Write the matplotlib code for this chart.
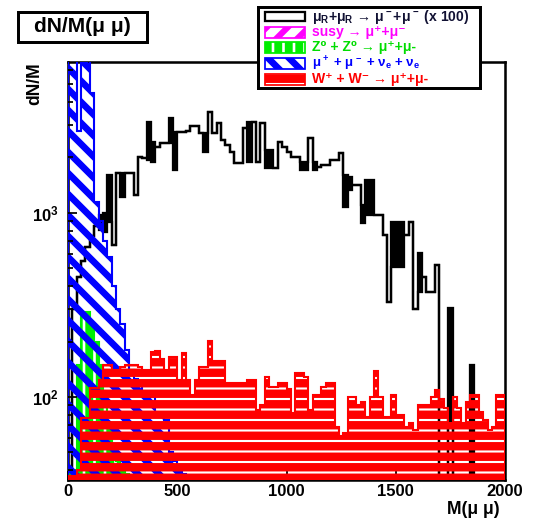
import numpy as np
import matplotlib
matplotlib.use('Agg')
import matplotlib.pyplot as plt
from matplotlib.patches import Rectangle
from matplotlib.ticker import FixedLocator, FuncFormatter, LogLocator, MultipleLocator

W, H, DPI = 539, 522, 126

plt.rcParams['font.family'] = ['Liberation Sans', 'DejaVu Sans']
plt.rcParams['font.weight'] = 'bold'
plt.rcParams['mathtext.fontset'] = 'custom'
for k in ('rm', 'it', 'bf', 'sf'):
    plt.rcParams['mathtext.' + k] = 'Liberation Sans:bold'

# 20 GeV bins from 0 to 2000
mass_edges = np.arange(0, 2001, 20)

# mu_R + mu_R -> mu mu (x 100): top / bottom of the range drawn in each bin
signal_hi = [40, 300, 450, 550, 650, 750, 850, 975, 1000, 1610,
             670, 1650, 1650, 1650, 1650, 1250, 2015, 1980, 3125, 2435,
             2285, 2400, 2400, 3280, 2760, 2760, 2755, 2800, 2970, 2970,
             2720, 2720, 3540, 2720, 3085, 2495, 2330, 2145, 1870, 1870,
             2900, 3125, 3125, 1890, 3085, 2200, 2200, 1760, 2435, 2285,
             2145, 2015, 2015, 1890, 1890, 2555, 1890, 1780, 1825, 1825,
             1940, 1940, 2120, 1610, 1570, 1420, 1420, 1105, 1510, 1510,
             975, 975, 760, 330, 893, 893, 893, 760, 893, 300,
             606, 449, 372, 372, 522, 20, 20, 305, 20, 20,
             20, 20, 149, 20, 20, 20, 20, 20, 20, 20]
signal_lo = [40, 300, 450, 550, 650, 750, 850, 808, 790, 890,
             670, 1650, 1220, 1650, 1650, 1250, 2015, 1980, 1940, 1890,
             2285, 2400, 2400, 2400, 1715, 2760, 2755, 2800, 2970, 2970,
             2720, 2145, 3540, 2720, 3085, 2495, 2330, 2145, 1870, 1870,
             2900, 1890, 3125, 1890, 3085, 1760, 1760, 1760, 2435, 2285,
             2145, 2015, 2015, 1715, 1715, 2555, 1715, 1780, 1825, 1825,
             1940, 1940, 2120, 1078, 1333, 1420, 1420, 883, 975, 975,
             975, 975, 760, 330, 509, 509, 509, 760, 893, 300,
             372, 449, 372, 372, 522, 20, 20, 70, 20, 20,
             20, 20, 20, 20, 20, 20, 20, 20, 20, 20]

# W+ W- -> mu mu
ww = [37, 37, 40, 77, 77, 112, 112, 124, 149, 149,
      140, 140, 146, 149, 149, 149, 146, 140, 140, 175,
      178, 160, 140, 165, 165, 124, 173, 124, 103, 124,
      146, 146, 201, 157, 157, 157, 119, 119, 119, 119,
      119, 124, 124, 85, 91, 128, 113, 113, 119, 119,
      110, 82, 135, 135, 128, 85, 103, 103, 113, 119,
      119, 69, 61, 64, 100, 100, 91, 94, 78, 100,
      138, 100, 78, 78, 103, 80, 80, 69, 72, 66,
      91, 91, 91, 100, 109, 98, 87, 72, 100, 87,
      72, 94, 103, 103, 83, 75, 66, 69, 103, 103]

# mu+ mu- nu nu
mumununu = [20000, 20000, 2800, 20000, 20000, 4500, 1150, 900, 700, 575,
            400, 300, 250, 180, 140, 125, 115, 105, 100, 100,
            80, 80, 75, 50, 45, 40, 38, 37] + [20] * 72

# Z0 Z0 -> mu mu
zz = [40, 40, 150, 290, 290, 250, 200, 150, 100, 70,
      55, 45, 40, 38, 36] + [20] * 85

YMIN, YMAX = 35.4, 6600

fig = plt.figure(figsize=(W / DPI, H / DPI), dpi=DPI)
ax = fig.add_axes([68 / W, 1 - 480 / H, 437 / W, 418 / H])
ax.set_yscale('log')


def hatched(vals, color, hatch, hlw, z, clamp=False, lw=1.2):
    vals = np.asarray(vals, float)
    with plt.rc_context({'hatch.linewidth': hlw}):
        ax.stairs(vals, mass_edges, baseline=1e-3, fill=True, facecolor='none',
                  edgecolor=color, hatch=hatch, linewidth=0, zorder=z)
    line = np.maximum(vals, YMIN) if clamp else vals
    ax.stairs(line, mass_edges, baseline=1e-3, color=color, lw=lw, zorder=z + 0.05)


hatched(zz, '#00ee00', '||', 4.5, 1.0)

# signal: filled where the bin fluctuates, thick step lines
ax.stairs(signal_hi, mass_edges, baseline=signal_lo, fill=True, color='black', lw=0, zorder=1.2)
ax.stairs(signal_hi, mass_edges, baseline=None, color='black', lw=1.3, zorder=1.25)
ax.stairs(signal_lo, mass_edges, baseline=None, color='black', lw=1.3, zorder=1.25)

hatched(mumununu, '#0000ff', '\\\\', 3.8, 1.4, clamp=True)
hatched(ww, '#ff0000', '--', 4.8, 1.6)

ax.set_xlim(0, 2000)
ax.set_ylim(YMIN, YMAX)
for s in ax.spines.values():
    s.set_linewidth(1.45)
    s.set_zorder(0.9)
ax.xaxis.set_zorder(0.8)
ax.yaxis.set_zorder(3)

ax.set_xticks([0, 500, 1000, 1500, 2000])
ax.xaxis.set_minor_locator(MultipleLocator(100))
ax.yaxis.set_major_locator(FixedLocator([100, 1000]))
ax.yaxis.set_minor_locator(LogLocator(base=10, subs=np.arange(2, 10)))
ax.yaxis.set_major_formatter(FuncFormatter(lambda v, p: r'$\mathbf{10^{%d}}$' % round(np.log10(v))))
ax.yaxis.set_minor_formatter(FuncFormatter(lambda v, p: ''))
ax.tick_params(axis='both', which='both', direction='in', top=False, right=False, width=1)
ax.tick_params(axis='y', which='major', length=5, pad=5.5, labelsize=9.5)
ax.tick_params(axis='y', which='minor', length=2.7)
ax.tick_params(axis='x', which='major', length=5, pad=2, labelsize=9.5)
ax.tick_params(axis='x', which='minor', length=2.7)

fig.text(35 / W, 1 - 62 / H, 'dN/M', rotation=90, ha='center', va='top', size=10)
fig.text(500 / W, 1 - 510 / H, 'M(μ μ)', ha='right', va='center', size=10)

# title box
fig.add_artist(Rectangle((18 / W, 1 - 42 / H), 129 / W, 30 / H, transform=fig.transFigure,
                         fc='white', ec='black', lw=1.7))
fig.text(82 / W, 1 - 27 / H, 'dN/M(μ μ)', ha='center', va='center', size=12)

# legend box
lg = fig.add_axes([258 / W, 1 - 88 / H, 222 / W, 81 / H])
lg.set_xlim(0, 222)
lg.set_ylim(81, 0)
lg.set_xticks([])
lg.set_yticks([])
for s in lg.spines.values():
    s.set_linewidth(1.7)

rows = [
    (9.7, 'black', None, 0, r'$\mu_R$+$\mu_R$ → $\mu^-$+$\mu^-$ (x 100)', '#111133', 8),
    (25.0, '#ff00ff', '//', 3.5, 'susy → μ⁺+μ⁻', '#ff00ff', 8),
    (40.0, '#00ee00', '||', 4.5, 'Z⁰ + Z⁰ → μ⁺+μ-', '#00dd00', 8),
    (56.5, '#0000ff', '\\\\', 3.8, r'$\mu^+$ + $\mu^-$ + $\nu_e$ + $\nu_e$', '#0000ff', 7.6),
    (72.5, '#ff0000', '--', 4.8, 'W⁺ + W⁻ → μ⁺+μ-', '#ff0000', 8),
]
for yc, col, hatch, hlw, label, tcol, fs in rows:
    if hatch is None:
        lg.add_patch(Rectangle((7, yc - 4.5), 40, 9, fc='white', ec=col, lw=1.3))
    else:
        with plt.rc_context({'hatch.linewidth': hlw}):
            lg.add_patch(Rectangle((7, yc - 5.5), 40, 11, fc='none', ec=col, hatch=hatch, lw=1.0))
    lg.text(54, yc, label, color=tcol, ha='left', va='center', size=fs)

fig.savefig('out.png', dpi=DPI)
